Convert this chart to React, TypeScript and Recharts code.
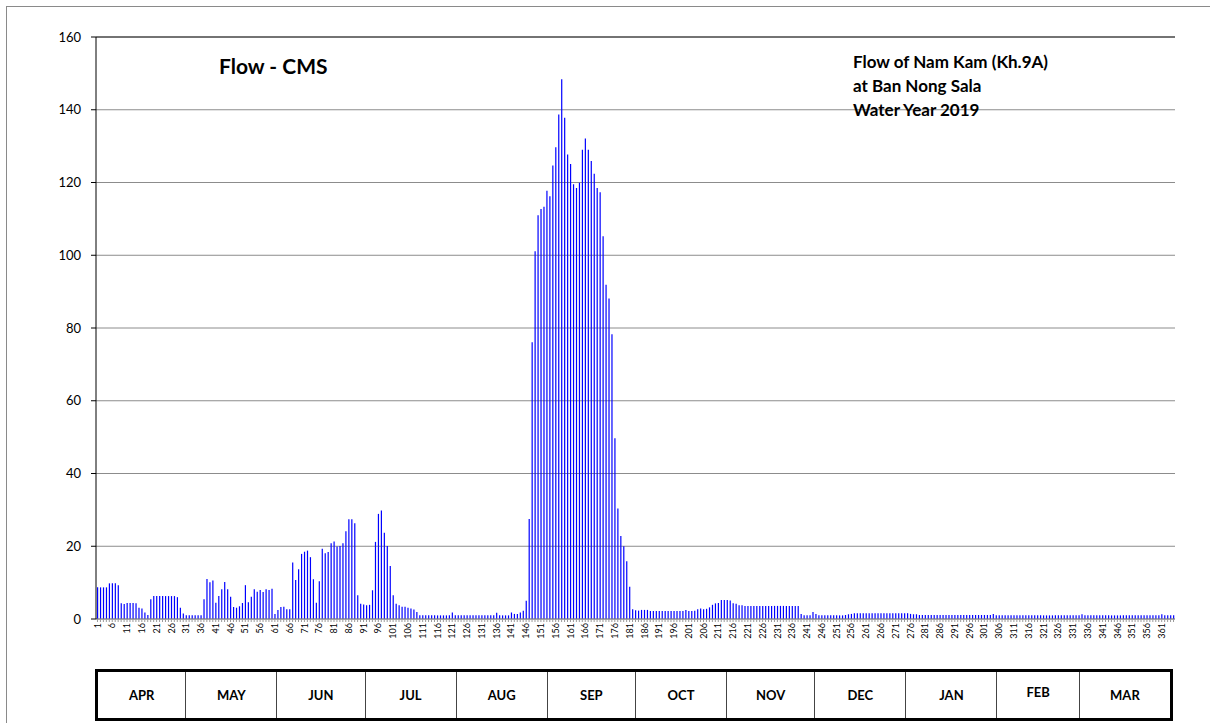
import React from 'react';
import { BarChart, Bar, XAxis, YAxis, CartesianGrid, ReferenceLine } from 'recharts';

// Daily flow (CMS), water year 2019
const apr = [
  8.7, 8.7, 8.7, 8.7, 9.8, 9.8, 9.8, 9.3, 4.3, 4.1,
  4.4, 4.4, 4.4, 4.3, 3.1, 2.9, 1.8, 1.1, 5.4, 6.3,
  6.3, 6.3, 6.3, 6.3, 6.3, 6.3, 6.3, 6.0, 3.1, 1.5,
];
const may = [
  1.0, 1.0, 1.0, 1.0, 1.0, 1.0, 5.4, 11.0, 10.1, 10.6,
  4.5, 6.3, 8.2, 10.2, 8.2, 6.1, 3.3, 3.1, 3.5, 4.4,
  9.3, 4.6, 6.1, 8.2, 7.5, 8.0, 7.4, 8.2, 8.0, 8.3,
  1.4,
];
const jun = [
  2.5, 3.3, 3.4, 2.7, 2.7, 15.5, 10.7, 13.7, 17.9,
  18.5, 18.8, 17.0, 10.9, 4.5, 10.4, 19.3, 18.1, 18.4, 20.8,
  21.3, 19.9, 20.1, 20.8, 24.1, 27.4, 27.4, 26.3, 6.5, 4.2,
  4.0,
];
const jul = [
  3.8, 3.9, 7.9, 21.2, 28.9, 29.8, 23.7, 20.1, 14.6,
  6.5, 4.2, 3.8, 3.4, 3.4, 3.1, 2.9, 2.6, 1.9, 1.0,
  1.0, 1.0, 1.0, 1.0, 1.0, 1.0, 1.0, 1.0, 1.0, 1.0,
  1.8, 1.0,
];
const aug = [
  1.0, 1.0, 1.0, 1.0, 1.0, 1.0, 1.0, 1.0, 1.0, 1.0,
  1.0, 1.0, 1.0, 1.7, 1.0, 1.0, 1.0, 1.0, 1.8, 1.4,
  1.4, 1.8, 2.3, 5.0, 27.5, 76.1, 101.1, 111.0, 112.7, 113.3,
  117.7,
];
const sep = [
  116.2, 124.7, 129.7, 138.7, 148.4, 137.8, 127.7,
  125.1, 119.5, 118.5, 119.9, 129.0, 132.1, 129.0, 125.9, 122.4, 118.5,
  117.3, 105.2, 91.9, 88.1, 78.3, 49.7, 30.4, 22.8, 20.0, 15.9,
  8.9, 2.7, 2.4,
];
const oct = [
  2.3, 2.5, 2.5, 2.5, 2.2, 2.2, 2.2, 2.2, 2.2, 2.2,
  2.2, 2.2, 2.2, 2.2, 2.2, 2.2, 2.5, 2.2, 2.2, 2.3,
  2.7, 2.9, 2.7, 2.8, 3.2, 3.9, 4.3, 4.4, 5.2, 5.2,
  5.2,
];
const nov = [
  5.1, 4.3, 4.2, 3.8, 3.8, 3.6, 3.6, 3.6, 3.6, 3.6,
  3.6, 3.6, 3.6, 3.6, 3.6, 3.6, 3.6, 3.6, 3.6, 3.6,
  3.6, 3.6, 3.6, 3.6, 1.4, 1.0, 1.0, 1.0, 1.9, 1.4,
];
const dec = [
  1.0, 1.0, 1.0, 1.0, 1.0, 1.0, 1.0, 1.0, 1.0, 1.1,
  1.3, 1.4, 1.6, 1.6, 1.6, 1.6, 1.6, 1.6, 1.6, 1.6,
  1.6, 1.6, 1.6, 1.6, 1.6, 1.6, 1.6, 1.6, 1.6, 1.6,
  1.6,
];
const jan = [
  1.4, 1.3, 1.3, 1.1, 1.1, 1.1, 1.1, 1.1, 1.1, 1.1,
  1.1, 1.1, 1.1, 1.1, 1.1, 1.1, 1.1, 1.1, 1.1, 1.1,
  1.1, 1.1, 1.1, 1.1, 1.1, 1.1, 1.1, 1.1, 1.4, 1.0,
  1.0,
];
const feb = [
  1.0, 1.0, 1.0, 1.0, 1.0, 1.0, 1.0, 1.0, 1.0, 1.0,
  1.0, 1.0, 1.0, 1.0, 1.0, 1.0, 1.0, 1.0, 1.0, 1.0,
  1.0, 1.0, 1.0, 1.0, 1.0, 1.0, 1.0, 1.3,
];
const mar = [
  1.0, 1.0, 1.0, 1.0, 1.0, 1.0, 1.0, 1.0, 1.0, 1.0,
  1.0, 1.0, 1.0, 1.0, 1.0, 1.0, 1.0, 1.0, 1.0, 1.0,
  1.0, 1.0, 1.0, 1.0, 1.0, 1.0, 1.3, 1.0, 1.0, 1.0,
  1.0,
];

const months = ['APR', 'MAY', 'JUN', 'JUL', 'AUG', 'SEP', 'OCT', 'NOV', 'DEC', 'JAN', 'FEB', 'MAR'];
const monthFlows = [apr, may, jun, jul, aug, sep, oct, nov, dec, jan, feb, mar];
const yTicks = [0, 20, 40, 60, 80, 100, 120, 140, 160];
const titleLines = ['Flow of Nam Kam (Kh.9A)', 'at Ban Nong Sala', 'Water Year 2019'];

const flows = monthFlows.flat();
const data = flows.map((flow, i) => ({ day: i + 1, flow }));

const FONT = 'Lato, "Open Sans", sans-serif';

// every day gets a tick mark, but only every 5th day a label
function DayTick(props: any) {
  const { x, y, payload, index } = props;
  if (index % 5 !== 0) return <g />;
  return (
    <g transform={`translate(${x},${y})`}>
      <text transform="rotate(-90)" textAnchor="end" dy="0.35em" fontSize={9} fill="#000" fontFamily={FONT}>
        {payload.value}
      </text>
    </g>
  );
}

export default function App() {
  return (
    <div style={{ position: 'absolute', left: 0, top: 0, width: 1210, height: 723, overflow: 'hidden', background: '#fff', fontFamily: FONT }}>
      <div style={{ position: 'absolute', left: 6, top: 6, width: 1260, height: 800, border: '1px solid #8a8a8a' }} />

      <BarChart width={1210} height={670} data={data} margin={{ top: 37, right: 35, left: 0, bottom: 11 }} barCategoryGap={0}>
        <CartesianGrid yAxisId="left" horizontal vertical={false} stroke="#8c8c8c" />
        <XAxis
          dataKey="day"
          interval={0}
          height={40}
          tick={<DayTick />}
          tickSize={3}
          tickMargin={1}
          tickLine={{ stroke: '#9a9a9a' }}
          axisLine={{ stroke: '#8c8c8c' }}
        />
        <YAxis
          yAxisId="left"
          width={96}
          domain={[0, 160]}
          ticks={yTicks}
          tickSize={5}
          tickMargin={10}
          tick={{ fontSize: 13, fill: '#000', fontFamily: FONT }}
          tickLine={{ stroke: '#000' }}
          axisLine={{ stroke: '#000' }}
        />
        <YAxis yAxisId="right" orientation="right" width={0} domain={[0, 160]} tick={false} tickLine={false} axisLine={{ stroke: '#8c8c8c' }} />
        <ReferenceLine yAxisId="left" y={160} stroke="#222" />
        <Bar yAxisId="left" dataKey="flow" fill="#0000ff" barSize={1.2} isAnimationActive={false} />
      </BarChart>

      <div style={{ position: 'absolute', left: 219, top: 54, fontSize: 21, fontWeight: 700, lineHeight: '24px', whiteSpace: 'nowrap' }}>
        Flow - CMS
      </div>
      <div style={{ position: 'absolute', left: 853, top: 50, fontSize: 17, fontWeight: 700, lineHeight: '24px', whiteSpace: 'nowrap' }}>
        {titleLines.map((t) => (
          <div key={t}>{t}</div>
        ))}
      </div>

      <div style={{ position: 'absolute', left: 95, top: 669, width: 1078, height: 52, border: '3px solid #000', boxSizing: 'border-box', display: 'flex' }}>
        {months.map((m, i) => (
          <div
            key={m}
            style={{
              flex: `${monthFlows[i].length} 0 0`,
              borderLeft: i === 0 ? 'none' : '1.5px solid #444',
              display: 'flex',
              alignItems: 'center',
              justifyContent: 'center',
              fontSize: 13,
              fontWeight: 700,
              paddingBottom: m === 'FEB' ? 6 : 0,
            }}
          >
            {m}
          </div>
        ))}
      </div>
    </div>
  );
}
